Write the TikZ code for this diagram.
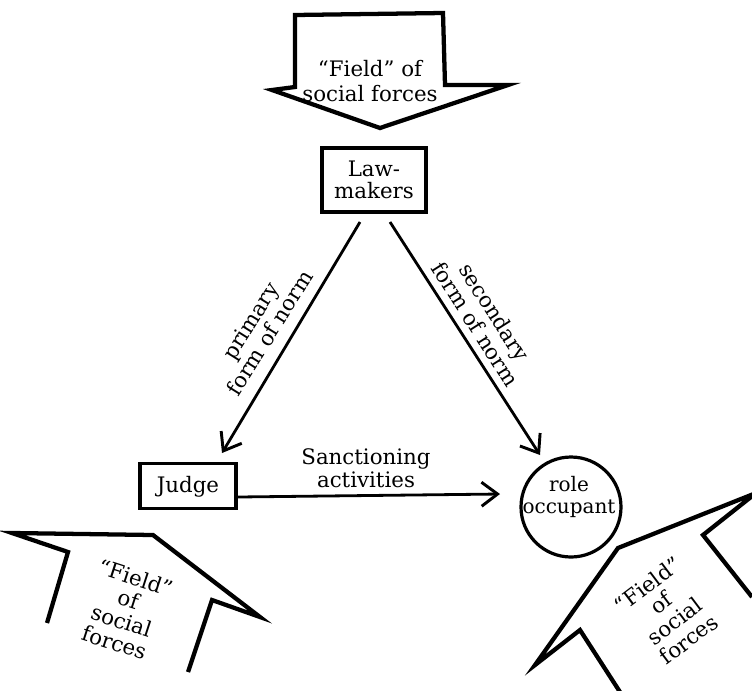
\documentclass[tikz,border=0pt]{standalone}
\usepackage{fontspec}
\setmainfont{DejaVu Serif}
\usetikzlibrary{arrows.meta}
\begin{document}
\begin{tikzpicture}[x=0.75pt,y=-0.75pt,
  txt/.style={font=\fontsize{16}{17}\selectfont, align=center, inner sep=0pt},
  boxnode/.style={draw, line width=2.6pt, inner sep=0pt},
  fieldline/.style={line width=3.2pt, line join=miter},
  conn/.style={line width=2.1pt, -{Straight Barb[length=12pt,width=18pt,line width=2.2pt]}}]
\useasboundingbox (0,0) rectangle (752,690);
% top field arrow
\draw[fieldline] (295,15) -- (443,13) -- (445,85) -- (508,85) -- (380,128) -- (272,90) -- (295,87) -- cycle;
\node[txt, font=\fontsize{16}{18.5}\selectfont] (topfield) at (370,81) {``Field'' of\\social forces};
% nodes
\node[boxnode, minimum width=78pt, minimum height=48pt] (law) at (374,180) {};
\node[txt] (lawtxt) at (374,180) {Law-\\makers};
\node[boxnode, minimum width=72pt, minimum height=34pt] (judge) at (188,486) {};
\node[txt] (judgetxt) at (188,487) {Judge};
\node[draw, circle, line width=2.4pt, minimum size=75pt, inner sep=0pt] (role) at (571,507) {};
\node[txt, font=\fontsize{15}{16.5}\selectfont] (roletxt) at (569,497) {role\\occupant};
% connectors
\coordinate (lawL) at (360,222);
\coordinate (lawR) at (390,222);
\coordinate (judgeT) at (222,453);
\coordinate (roleT) at (540,455);
\coordinate (judgeR) at (238,497);
\coordinate (roleL) at (500,494);
\draw[conn] (lawL) -- (judgeT);
\draw[conn] (lawR) -- (roleT);
\draw[conn] (judgeR) -- (roleL);
\node[txt, rotate=58] (lab1) at (260,327) {primary\\form of norm};
\node[txt, rotate=-57.5] (lab2) at (485,318) {secondary\\form of norm};
\node[txt] (lab3) at (366,468) {Sanctioning\\activities};
% bottom left field arrow
\draw[fieldline] (47,623) -- (68,552) -- (12,533) -- (153,535) -- (260,617) -- (212,600) -- (188,672);
\node[txt, rotate=-18] (blfield) at (125,610) {``Field''\\of\\social\\forces};
% bottom right field arrow
\draw[fieldline] (620,692) -- (580,630) -- (535,665) -- (618,548) -- (756,493) -- (703,535) -- (752,597);
\node[txt, rotate=37] (brfield) at (668,612) {``Field''\\of\\social\\forces};
\end{tikzpicture}
\end{document}
